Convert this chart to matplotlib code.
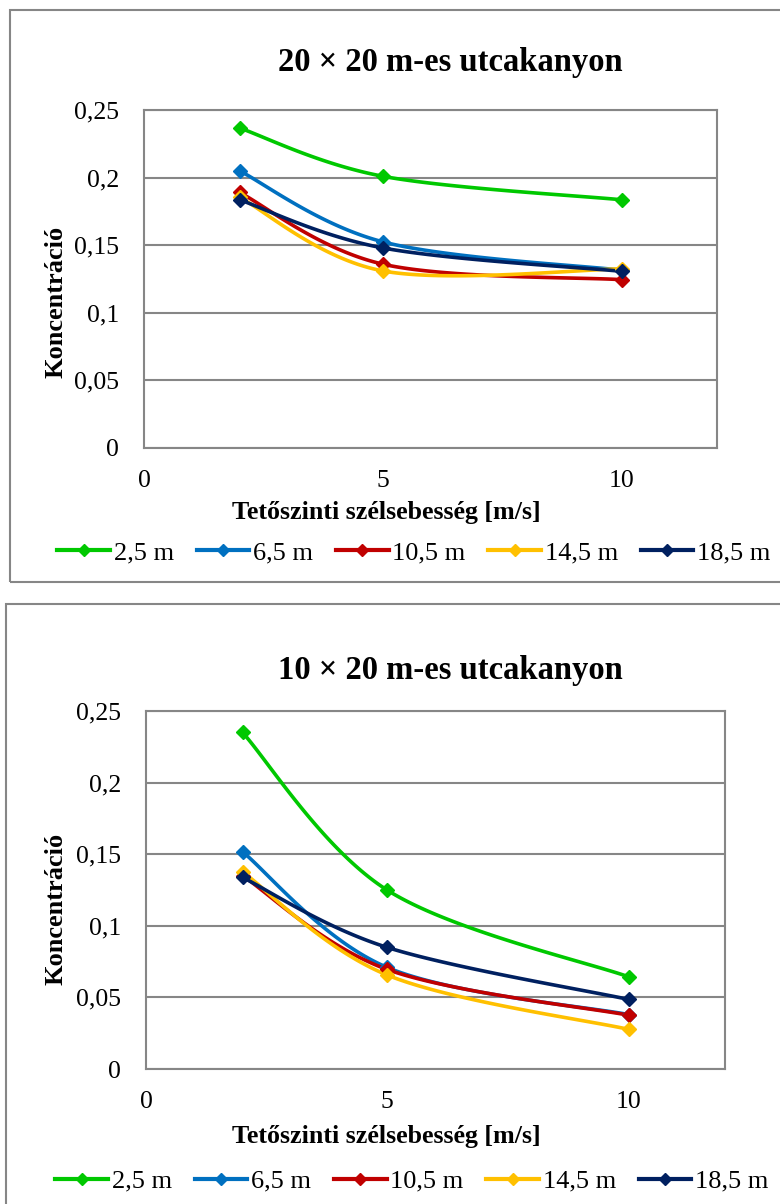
import numpy as np
import matplotlib
matplotlib.use("Agg")
import matplotlib.pyplot as plt
from matplotlib.lines import Line2D
from matplotlib.patches import Rectangle

plt.rcParams['font.family'] = ['Liberation Serif', 'DejaVu Serif']

# ---- data ----
wind_speed = [2, 5, 10]
series_labels = ["2,5 m", "6,5 m", "10,5 m", "14,5 m", "18,5 m"]
series_colors = ["#00C800", "#0070C0", "#C00000", "#FFC000", "#002060"]

conc_20x20 = [
    [0.2367, 0.2010, 0.1836],   # 2,5 m
    [0.2050, 0.1525, 0.1315],   # 6,5 m
    [0.1890, 0.1360, 0.1245],   # 10,5 m
    [0.1855, 0.1310, 0.1325],   # 14,5 m
    [0.1836, 0.1480, 0.1307],   # 18,5 m
]
conc_10x20 = [
    [0.2350, 0.1249, 0.0644],
    [0.1517, 0.0709, 0.0380],
    [0.1350, 0.0695, 0.0376],
    [0.1377, 0.0656, 0.0277],
    [0.1338, 0.0849, 0.0486],
]
titles = ["20 × 20 m-es utcakanyon", "10 × 20 m-es utcakanyon"]
xlabel = "Tetőszinti szélsebesség [m/s]"
ylabel = "Koncentráció"
xticks = [0, 5, 10]
yticks = [0, 0.05, 0.1, 0.15, 0.2, 0.25]
ytick_labels = ["0", "0,05", "0,1", "0,15", "0,2", "0,25"]

W, H = 780, 1204
fig = plt.figure(figsize=(W / 100, H / 100), dpi=100)


def smooth(x, y, n=60):
    """Catmull-Rom style cubic Bezier smoothing (like Excel smoothed lines)."""
    x = np.asarray(x, float)
    y = np.asarray(y, float)
    px = np.concatenate([[x[0]], x, [x[-1]]])
    py = np.concatenate([[y[0]], y, [y[-1]]])
    xs, ys = [], []
    t = np.linspace(0, 1, n)
    for i in range(len(x) - 1):
        p0 = np.array([x[i], y[i]])
        p3 = np.array([x[i + 1], y[i + 1]])
        p1 = p0 + (np.array([px[i + 2], py[i + 2]]) - np.array([px[i], py[i]])) / 6
        p2 = p3 - (np.array([px[i + 3], py[i + 3]]) - np.array([px[i + 1], py[i + 1]])) / 6
        b = ((1 - t) ** 3)[:, None] * p0 + (3 * (1 - t) ** 2 * t)[:, None] * p1 \
            + (3 * (1 - t) * t ** 2)[:, None] * p2 + (t ** 3)[:, None] * p3
        xs.append(b[:, 0])
        ys.append(b[:, 1])
    return np.concatenate(xs), np.concatenate(ys)


gray = "#868686"

panels = [
    dict(data=conc_20x20, title=titles[0], ax=(144, 110, 717, 448),
         border=(10, 10, 800, 582), title_y=63, ylab=(56, 302), xlab_y=513, leg=(414, 553)),
    dict(data=conc_10x20, title=titles[1], ax=(146, 711, 725, 1069),
         border=(6, 604, 800, 1230), title_y=670, ylab=(56, 909), xlab_y=1137, leg=(412, 1181)),
]

for p in panels:
    l, t, r, b = p["ax"]
    ax = fig.add_axes([l / W, 1 - b / H, (r - l) / W, (b - t) / H])
    bl, bt, br, bb = p["border"]
    fig.patches.append(Rectangle((bl / W, 1 - bb / H), (br - bl) / W, (bb - bt) / H,
                                 transform=fig.transFigure, fill=False,
                                 edgecolor=gray, lw=1.5, zorder=0))
    for vals, col in zip(p["data"], series_colors):
        sx, sy = smooth(wind_speed, vals)
        ax.plot(sx, sy, color=col, lw=2.6, solid_capstyle='round', zorder=3)
        ax.plot(wind_speed, vals, ls='none', marker='D', ms=7.5, color=col,
                mec=col, zorder=4)
    ax.set_xlim(0, 12)
    ax.set_ylim(0, 0.25)
    ax.set_xticks(xticks)
    ax.set_xticklabels([str(v) for v in xticks])
    ax.set_yticks(yticks)
    ax.set_yticklabels(ytick_labels)
    ax.tick_params(length=0, labelsize=18.5)
    ax.tick_params(axis='y', pad=18)
    ax.tick_params(axis='x', pad=16)
    ax.yaxis.grid(True, color=gray, lw=1.5)
    ax.set_axisbelow(True)
    for s in ax.spines.values():
        s.set_color(gray)
        s.set_linewidth(1.5)
    fig.text(450 / W, 1 - p["title_y"] / H, p["title"], ha='center', va='center',
             fontsize=23.5, fontweight='bold')
    fig.text(p["ylab"][0] / W, 1 - p["ylab"][1] / H, ylabel, rotation=90,
             ha='center', va='center', fontsize=19, fontweight='bold')
    fig.text(386 / W, 1 - p["xlab_y"] / H, xlabel, ha='center', va='center',
             fontsize=18.7, fontweight='bold')
    handles = [Line2D([], [], color=c, lw=3.0, marker='D', ms=6) for c in series_colors]
    fig.legend(handles, series_labels, loc='center',
               bbox_to_anchor=(p["leg"][0] / W, 1 - p["leg"][1] / H),
               ncol=5, frameon=False, fontsize=19, handlelength=2.0,
               handletextpad=0.15, columnspacing=0.85, borderaxespad=0, borderpad=0)

fig.savefig("out.png", dpi=100)
